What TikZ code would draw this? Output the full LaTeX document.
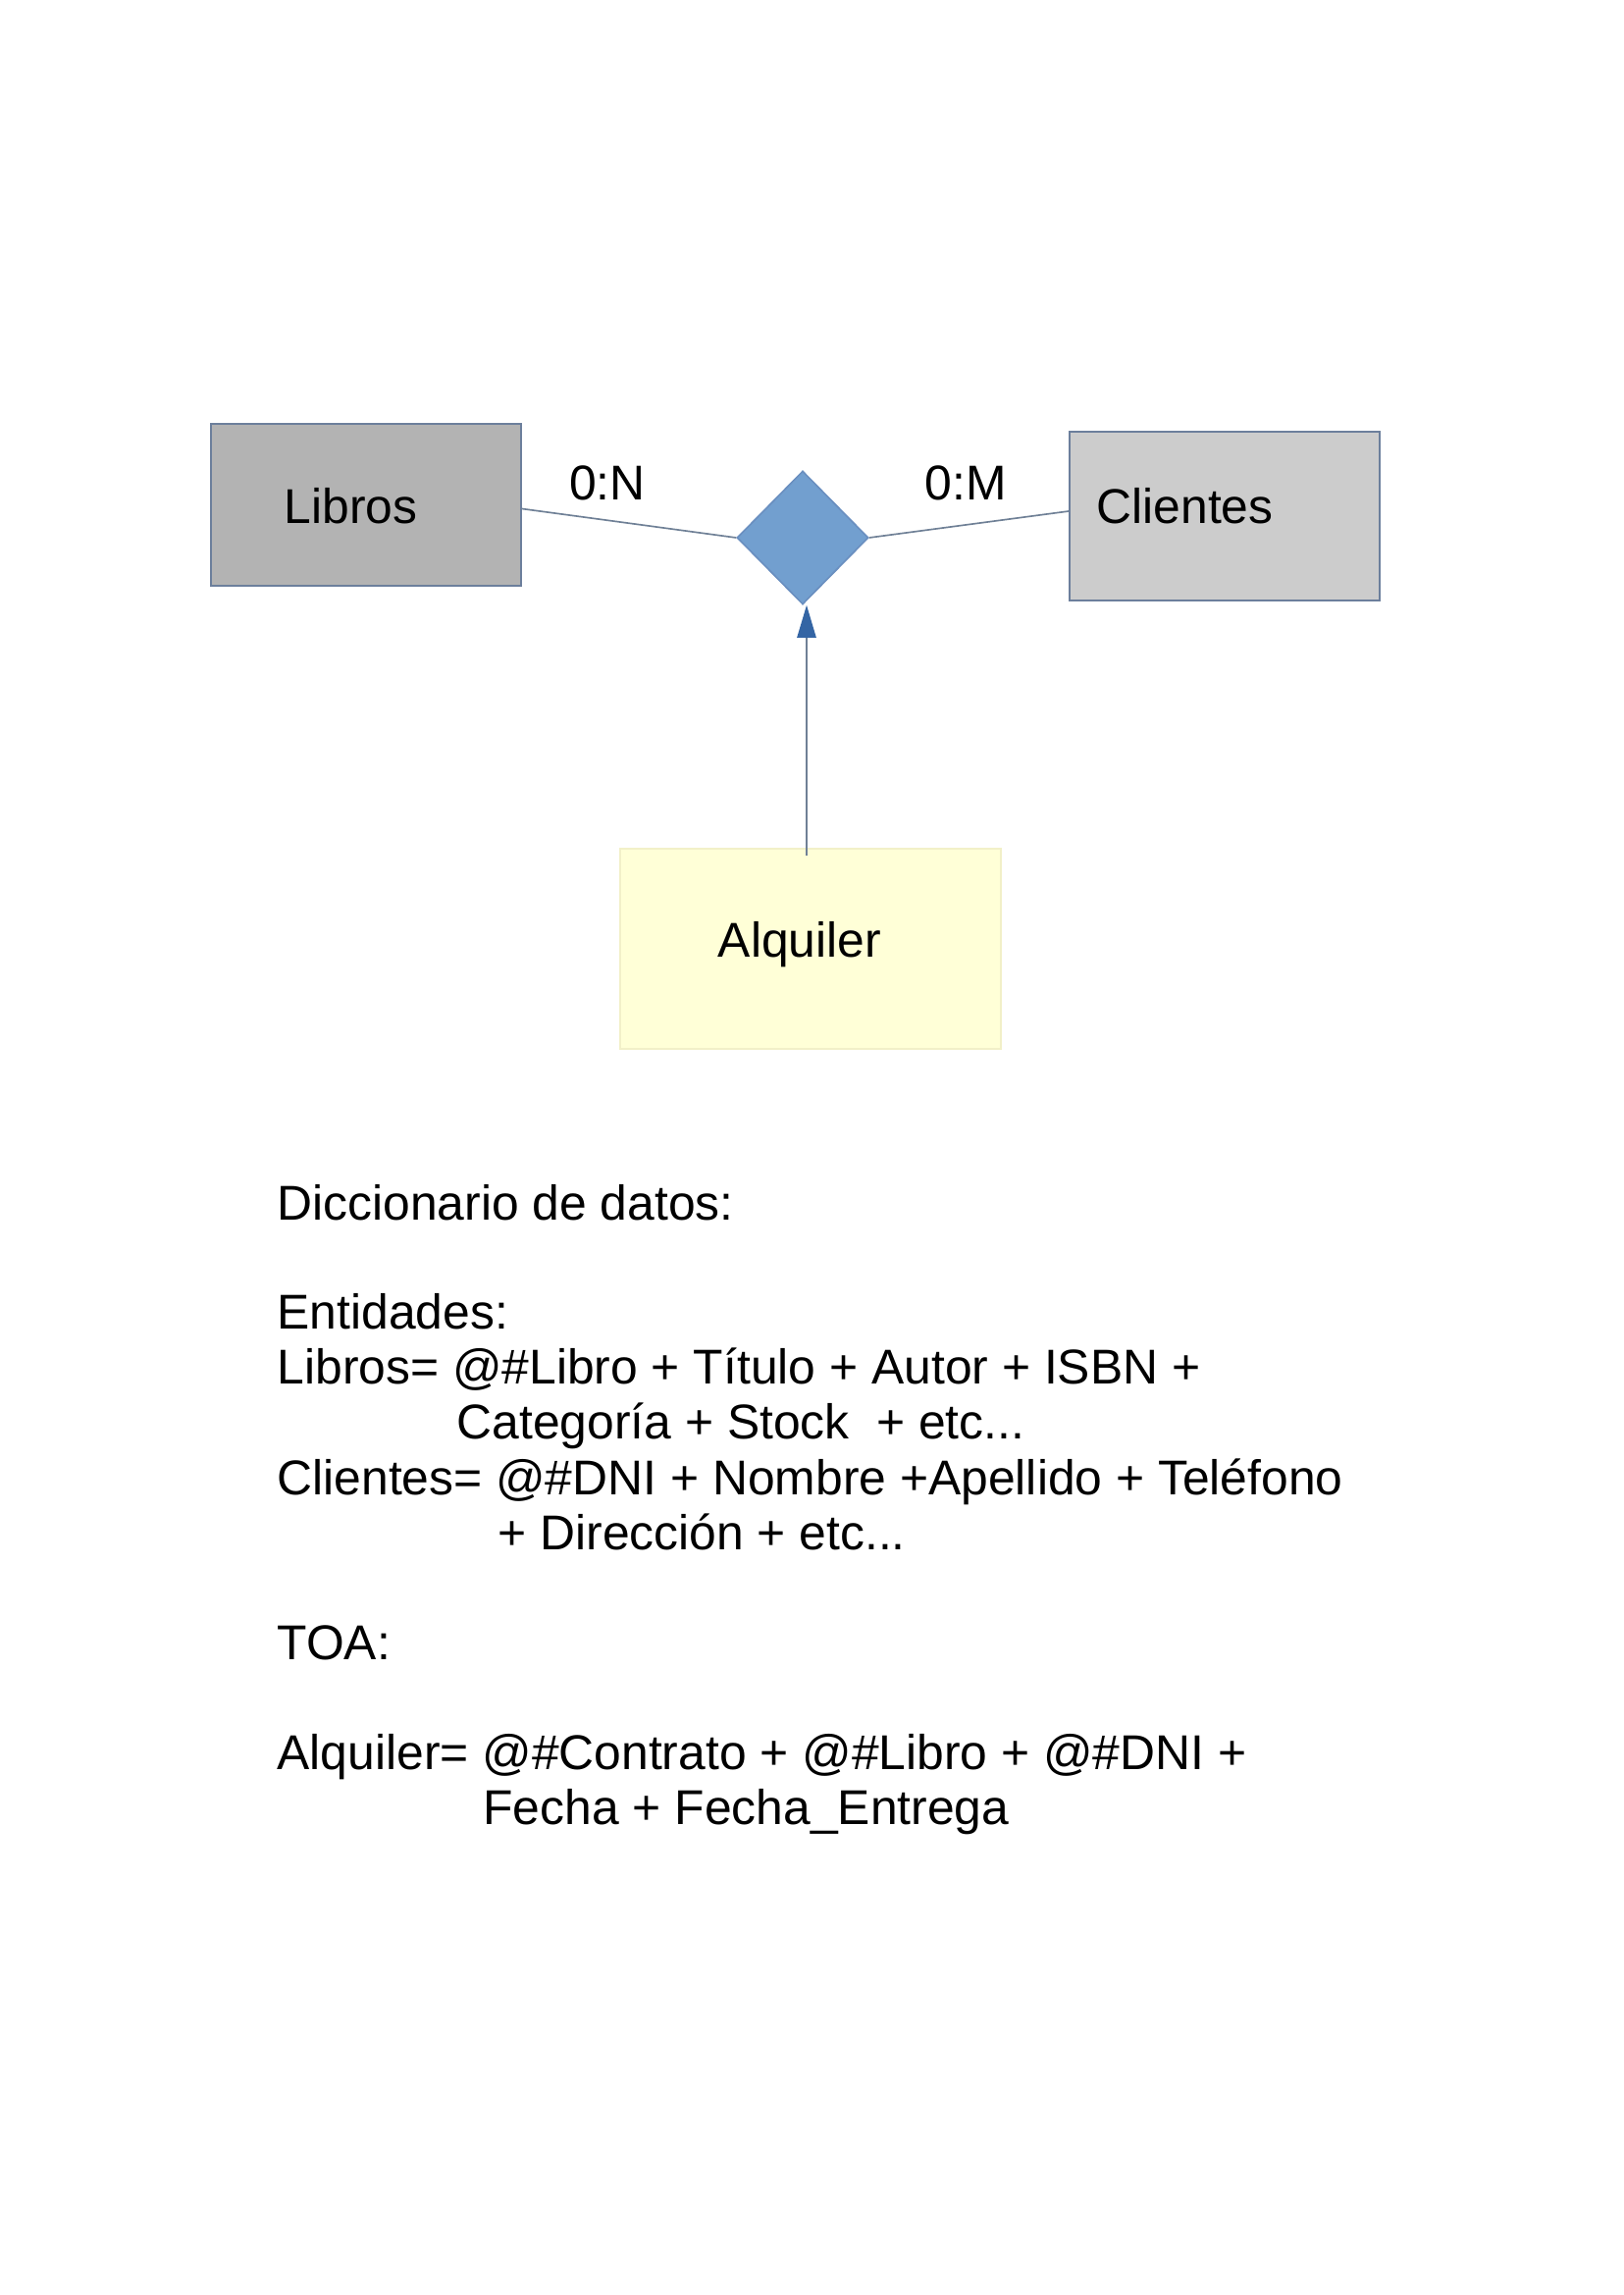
\documentclass[tikz,border=0pt]{standalone}
\usepackage{fontspec}
\setmainfont{Liberation Sans}
\usetikzlibrary{shapes.geometric,arrows.meta,calc}
\definecolor{boxborder}{HTML}{6C7F9C}
\definecolor{grayA}{HTML}{B3B3B3}
\definecolor{grayB}{HTML}{CCCCCC}
\definecolor{yel}{HTML}{FFFFD7}
\definecolor{yelborder}{HTML}{F2F0C8}
\definecolor{dia}{HTML}{729FCF}
\definecolor{diaborder}{HTML}{6A8FC0}
\definecolor{arrowblue}{HTML}{3465A4}
\definecolor{linec}{HTML}{6F8096}
\tikzset{
  ent/.style={draw=boxborder, line width=0.6pt, inner sep=0pt},
  lbl/.style={inner sep=0pt, font=\fontsize{18}{21}\selectfont},
  txt/.style={inner sep=0pt, anchor=base west, font=\fontsize{18}{21}\selectfont},
  conn/.style={draw=linec, line width=0.6pt}
}
\begin{document}
\begin{tikzpicture}[x=0.36135pt, y=-0.36135pt]
\useasboundingbox[fill=white] (0,0) rectangle (1654,2339);
% entities
\node[ent, fill=grayA, minimum width=114.2pt, minimum height=59.6pt] (libros) at (373,514.5) {};
\node[lbl, anchor=west] (librost) at (289,516) {Libros};
\node[ent, fill=grayB, minimum width=114.2pt, minimum height=62.2pt] (clientes) at (1248,526) {};
\node[lbl, anchor=west] (clientest) at (1117,516) {Clientes};
\node[ent, draw=yelborder, fill=yel, minimum width=140.2pt, minimum height=73.7pt] (alquiler) at (826,967) {};
\node[lbl] (alquilert) at (815,963) {Alquiler};
% relationship
\node[diamond, draw=diaborder, fill=dia, line width=0.6pt, inner sep=0pt, minimum width=48.4pt, minimum height=49.1pt] (rel) at (818,548) {};
% connectors
\draw[conn] ($(libros.east)+(0,4)$) -- (rel.west);
\draw[conn] (rel.east) -- ($(clientes.west)+(0,-5)$);
\coordinate (atop) at (alquiler.north -| rel.south);
\draw[conn, -{Triangle[length=12pt,width=7pt,fill=arrowblue,color=arrowblue]}] ($(atop)+(4,8)$) -- ($(rel.south)+(4,0)$);
% cardinalities
\node[lbl] (cn) at (619,492) {0:N};
\node[lbl] (cm) at (984,492) {0:M};
% data dictionary
\node[txt] (t1) at (282,1243) {Diccionario de datos:};
\node[txt] (t2) at (282,1354) {Entidades:};
\node[txt] (t3) at (282,1410) {Libros= @\#Libro + Título + Autor + ISBN +};
\node[txt] (t4) at (465,1466) {Categoría + Stock \ + etc...};
\node[txt] (t5) at (282,1523) {Clientes= @\#DNI + Nombre +Apellido + Teléfono};
\node[txt] (t6) at (507,1579) {+ Dirección + etc...};
\node[txt] (t7) at (282,1691) {TOA:};
\node[txt] (t8) at (282,1803) {Alquiler= @\#Contrato + @\#Libro + @\#DNI +};
\node[txt] (t9) at (492,1859) {Fecha + Fecha\_Entrega};
\end{tikzpicture}
\end{document}
